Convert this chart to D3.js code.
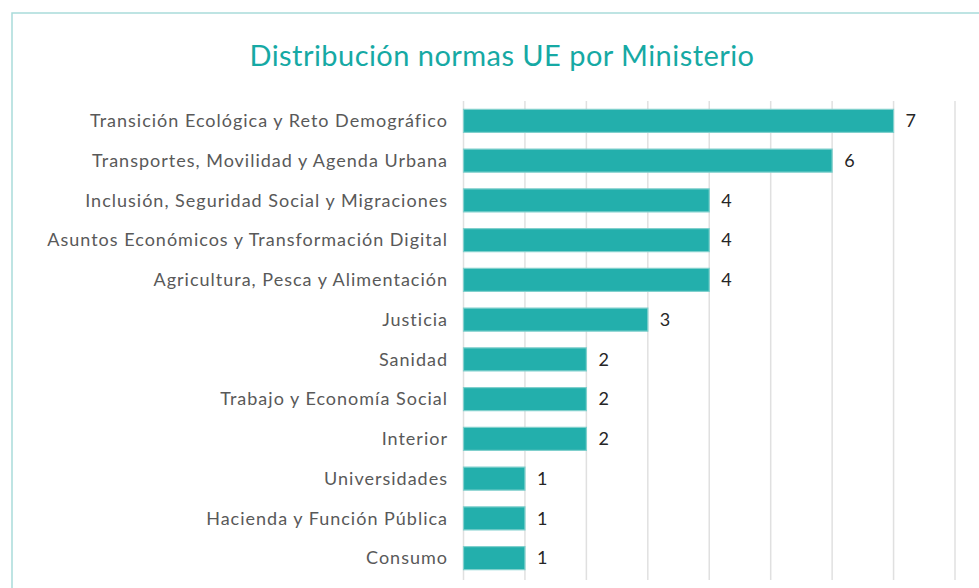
<!DOCTYPE html>
<html lang="es">
<head>
    <meta charset="UTF-8">
    <title>Distribución normas UE por Ministerio</title>
    <script src="https://d3js.org/d3.v7.min.js"></script>
    <style>
        body { margin: 0; background: #fff; }
        svg { display: block; font-family: Lato, "Open Sans", sans-serif; }
    </style>
</head>
<body>
    <svg width="979" height="588"></svg>

    <script>
        const ministerios = [
            "Transición Ecológica y Reto Demográfico",
            "Transportes, Movilidad y Agenda Urbana",
            "Inclusión, Seguridad Social y Migraciones",
            "Asuntos Económicos y Transformación Digital",
            "Agricultura, Pesca y Alimentación",
            "Justicia",
            "Sanidad",
            "Trabajo y Economía Social",
            "Interior",
            "Universidades",
            "Hacienda y Función Pública",
            "Consumo"
        ];
        const normas = [7, 6, 4, 4, 4, 3, 2, 2, 2, 1, 1, 1];
        const ticks = [0, 1, 2, 3, 4, 5, 6, 7, 8];

        const svg = d3.select("svg");
        const teal = "#23afac";

        // chart frame
        svg.append("rect")
            .attr("x", 12).attr("y", 13)
            .attr("width", 1000).attr("height", 600)
            .attr("fill", "none")
            .attr("stroke", "#a9dcda")
            .attr("stroke-width", 1.5);

        svg.append("text")
            .attr("x", 502).attr("y", 66)
            .attr("text-anchor", "middle")
            .attr("fill", "#16a9a4")
            .attr("font-size", 29)
            .attr("letter-spacing", 0.45)
            .text("Distribución normas UE por Ministerio");

        const x = d3.scaleLinear().domain([0, 8]).range([463.5, 955]);
        const y = d3.scaleBand().domain(ministerios).range([101, 578]).paddingInner(0.42).paddingOuter(0.21);

        // vertical gridlines
        svg.append("g")
            .selectAll("line")
            .data(ticks)
            .join("line")
            .attr("x1", d => x(d)).attr("x2", d => x(d))
            .attr("y1", 101).attr("y2", 580)
            .attr("stroke", "#e0e0e0")
            .attr("stroke-width", 1.5);

        const rows = ministerios.map((m, i) => ({ name: m, value: normas[i] }));

        svg.append("g")
            .selectAll("rect")
            .data(rows)
            .join("rect")
            .attr("x", x(0))
            .attr("y", d => y(d.name))
            .attr("width", d => x(d.value) - x(0))
            .attr("height", y.bandwidth())
            .attr("fill", teal)
            .attr("stroke", "#80d0cd")
            .attr("stroke-width", 1.2);

        // category labels
        svg.append("g")
            .selectAll("text")
            .data(rows)
            .join("text")
            .attr("x", 448)
            .attr("y", d => y(d.name) + y.bandwidth() / 2)
            .attr("dy", "0.35em")
            .attr("text-anchor", "end")
            .attr("fill", "#595959")
            .attr("font-size", 18)
            .attr("letter-spacing", 1)
            .text(d => d.name);

        // value labels
        svg.append("g")
            .selectAll("text")
            .data(rows)
            .join("text")
            .attr("x", d => x(d.value) + 12)
            .attr("y", d => y(d.name) + y.bandwidth() / 2)
            .attr("dy", "0.35em")
            .attr("fill", "#262626")
            .attr("font-size", 18)
            .text(d => d.value);
    </script>
</body>
</html>
